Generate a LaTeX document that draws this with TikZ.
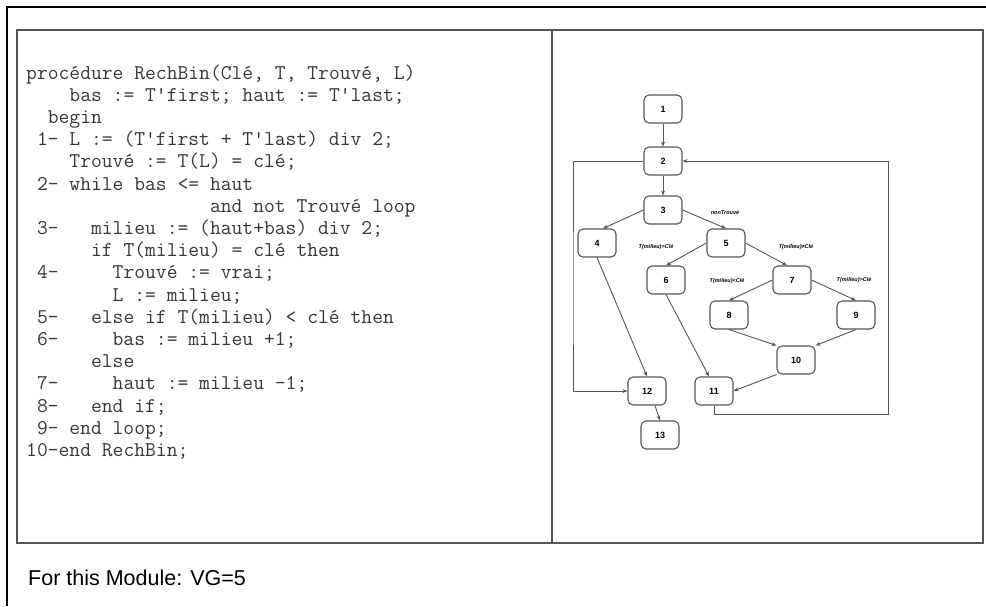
\documentclass[tikz,border=0pt]{standalone}
\usepackage{fontspec}
\setsansfont{Liberation Sans}
\usetikzlibrary{arrows.meta,positioning}
\definecolor{codegray}{RGB}{55,55,55}
\definecolor{framegray}{RGB}{85,85,85}

\begin{document}
\begin{tikzpicture}[x=1pt, y=-1pt,
  codeline/.style={anchor=base west, inner sep=0pt, text=codegray, font=\ttfamily\fontsize{21}{22}\selectfont},
  blk/.style={draw=framegray, line width=1.1pt, rounded corners=5pt, minimum width=38pt, minimum height=28pt, inner sep=0pt, font=\sffamily\bfseries\fontsize{9}{9}\selectfont},
  cond/.style={inner sep=0pt, font=\sffamily\bfseries\itshape\fontsize{5.5}{6}\selectfont},
  flow/.style={draw=framegray, line width=0.9pt, -{Stealth[length=5pt,width=4pt]}}]

\useasboundingbox (0,0) rectangle (986,606);

% frames
\draw[line width=2.5pt] (7,606) -- (7,7) -- (986,7);
\draw[framegray, line width=1.5pt] (17,30) rectangle (983,543);
\draw[framegray, line width=1.5pt] (552,30) -- (552,543);

% code listing
\node[codeline] (c0) at (26,79) {procédure RechBin(Clé, T, Trouvé, L)};
\node[codeline] (c1) at (26,101.2) {~~~~bas := T'first; haut := T'last;};
\node[codeline] (c2) at (26,123.4) {~~begin};
\node[codeline] (c3) at (26,145.6) {~1- L := (T'first + T'last) div 2;};
\node[codeline] (c4) at (26,167.8) {~~~~Trouvé := T(L) = clé;};
\node[codeline] (c5) at (26,190) {~2- while bas <= haut};
\node[codeline] (c6) at (26,212.2) {~~~~~~~~~~~~~~~~~and not Trouvé loop};
\node[codeline] (c7) at (26,234.4) {~3-~~~milieu := (haut+bas) div 2;};
\node[codeline] (c8) at (26,256.6) {~~~~~~if T(milieu) = clé then};
\node[codeline] (c9) at (26,278.8) {~4-~~~~~Trouvé := vrai;};
\node[codeline] (c10) at (26,301) {~~~~~~~~L := milieu;};
\node[codeline] (c11) at (26,323.2) {~5-~~~else if T(milieu) < clé then};
\node[codeline] (c12) at (26,345.4) {~6-~~~~~bas := milieu +1;};
\node[codeline] (c13) at (26,367.6) {~~~~~~else};
\node[codeline] (c14) at (26,389.8) {~7-~~~~~haut := milieu -1;};
\node[codeline] (c15) at (26,412) {~8-~~~end if;};
\node[codeline] (c16) at (26,434.2) {~9- end loop;};
\node[codeline] (c17) at (26,456.4) {10-end RechBin;};

\node[anchor=base west, inner sep=0pt, font=\sffamily\fontsize{21.5}{22}\selectfont] (vg) at (28,585) {For this Module: VG=5};

% control flow graph
\node[blk] (n1) at (663,109) {1};
\node[blk] (n2) at (663,161) {2};
\node[blk] (n3) at (663,210) {3};
\node[blk] (n4) at (597,243) {4};
\node[blk] (n5) at (726,243) {5};
\node[blk] (n6) at (666,280) {6};
\node[blk] (n7) at (792,280) {7};
\node[blk] (n8) at (729,315) {8};
\node[blk] (n9) at (856,315) {9};
\node[blk] (n10) at (796,360) {10};
\node[blk] (n11) at (714,391) {11};
\node[blk] (n12) at (647,391) {12};
\node[blk] (n13) at (660,435) {13};

\node[cond] (t35) at (725,213) {nonTrouvé};
\node[cond] (t56) at (656,247) {T(milieu)=Clé};
\node[cond] (t57) at (796,247) {T(milieu)≠Clé};
\node[cond] (t78) at (727,281) {T(milieu)<Clé};
\node[cond] (t79) at (854,280) {T(milieu)>Clé};

\coordinate (lpR) at (888,414);
\coordinate (lpL) at (573,300);

\draw[flow] (n1) -- (n2);
\draw[flow] (n2) -- (n3);
\draw[flow] (n3.west) -- ([xshift=6pt]n4.north);
\draw[flow] (n3.east) -- (n5.north);
\draw[flow] (n5.west) -- (n6.north);
\draw[flow] (n5.east) -- ([xshift=-5pt]n7.north);
\draw[flow] (n7.west) -- (n8.north);
\draw[flow] (n7.east) -- (n9.north);
\draw[flow] (n8.south) -- (n10.north west);
\draw[flow] (n9.south) -- (n10.north east);
\draw[flow] (n10.south west) -- (n11.east);
\draw[flow] (n4.south) -- (n12.north);
\draw[flow] (n6.south) -- ([xshift=-5pt]n11.north);
\draw[flow] ([xshift=8pt]n12.south) -- (n13.north);
\draw[flow] (n11.south) |- (lpR) |- (n2.east);
\draw[flow] (n2.west) -| (lpL) |- (n12.west);
\end{tikzpicture}
\end{document}
